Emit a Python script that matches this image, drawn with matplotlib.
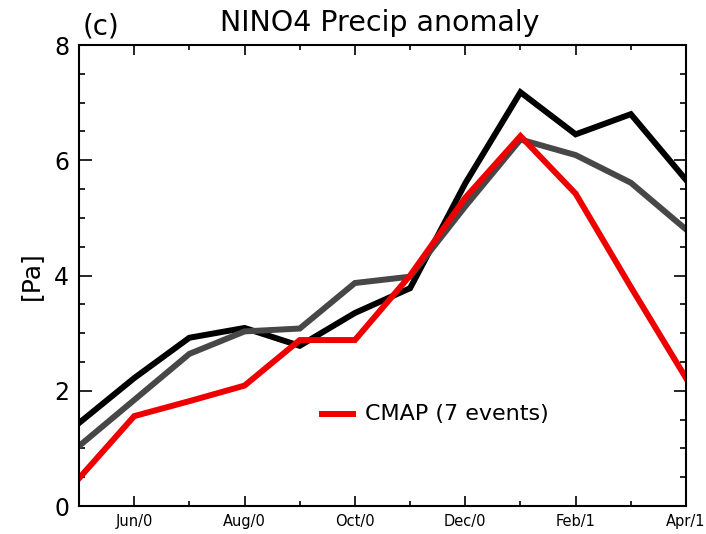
import numpy as np
import matplotlib.pyplot as plt
from matplotlib.ticker import MultipleLocator, FixedLocator

# months from May/0 to Apr/1
months = np.arange(12)
tick_pos = [1, 3, 5, 7, 9, 11]
tick_labels = ["Jun/0", "Aug/0", "Oct/0", "Dec/0", "Feb/1", "Apr/1"]

black_vals = [1.44, 2.22, 2.92, 3.09, 2.78, 3.35, 3.78, 5.6, 7.18, 6.45, 6.8, 5.66]
gray_vals = [1.04, 1.84, 2.64, 3.03, 3.08, 3.87, 3.98, 5.2, 6.36, 6.09, 5.61, 4.8]
red_vals = [0.48, 1.56, 1.82, 2.09, 2.88, 2.88, 4.0, 5.35, 6.42, 5.42, 3.8, 2.22]

fig = plt.figure(figsize=(7.06, 5.34), dpi=100)
ax = fig.add_axes([0.1119, 0.0524, 0.8598, 0.8633])

ax.plot(months, black_vals, color="black", lw=4.3, solid_joinstyle="miter")
ax.plot(months, gray_vals, color="#474747", lw=4.3, solid_joinstyle="miter")
ax.plot(months, red_vals, color="#ee0000", lw=4.3, solid_joinstyle="miter")

ax.set_xlim(0, 11)
ax.set_ylim(0, 8)

ax.xaxis.set_major_locator(FixedLocator(tick_pos))
ax.xaxis.set_minor_locator(FixedLocator([2, 4, 6, 8, 10]))
ax.set_xticklabels(tick_labels, fontsize=10.5)
ax.yaxis.set_major_locator(MultipleLocator(2))
ax.yaxis.set_minor_locator(MultipleLocator(0.5))
ax.tick_params(axis="y", labelsize=17)
ax.tick_params(which="both", direction="in", top=True, right=True, width=1.2)
ax.tick_params(axis="y", which="major", length=9, pad=7)
ax.tick_params(axis="y", which="minor", length=4.5)
ax.tick_params(axis="x", which="major", length=7.5, pad=6)
ax.tick_params(axis="x", which="minor", length=3.5)
for s in ax.spines.values():
    s.set_linewidth(1.5)

ax.set_ylabel("[Pa]", fontsize=18, labelpad=8)

fig.text(0.538, 0.957, "NINO4 Precip anomaly", ha="center", va="center", fontsize=20.5)
fig.text(0.143, 0.95, "(c)", ha="center", va="center", fontsize=20)

# legend entry
ax.plot([4.4, 4.96], [1.6, 1.6], color="#ee0000", lw=4.3)
ax.text(5.18, 1.6, "CMAP (7 events)", fontsize=16, va="center", ha="left")

fig.savefig("out.png", dpi=100)
